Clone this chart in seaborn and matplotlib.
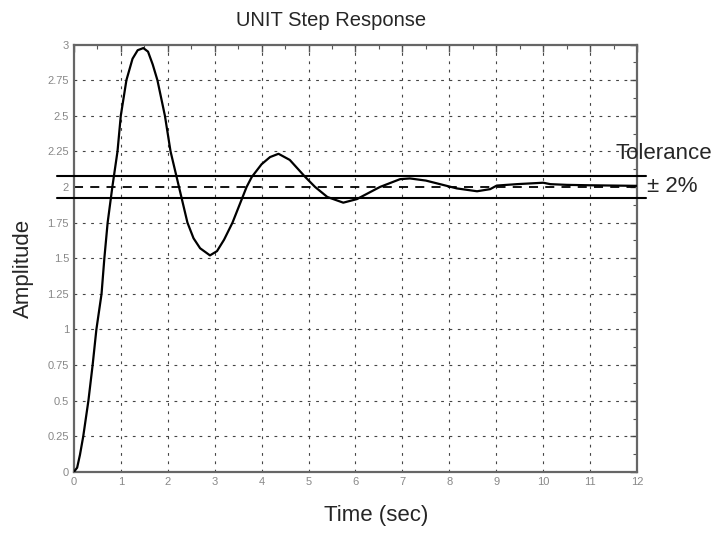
import numpy as np
import pandas as pd
import matplotlib.pyplot as plt
import seaborn as sns

# Step response
time = [0.0, 0.07, 0.13, 0.20, 0.31, 0.40, 0.48, 0.59, 0.65, 0.72, 0.82, 0.93,
        1.00, 1.12, 1.25, 1.36, 1.48, 1.58, 1.68, 1.78, 1.94, 2.06, 2.24, 2.42,
        2.55, 2.69, 2.90, 3.05, 3.20, 3.38, 3.68, 3.79, 4.00, 4.18, 4.36, 4.60,
        4.93, 5.14, 5.40, 5.74, 6.03, 6.52, 6.95, 7.16, 7.50, 7.80, 8.16, 8.59,
        8.87, 9.01, 9.44, 10.00, 10.15, 10.50, 11.00, 12.00]
amplitude = [0.0, 0.03, 0.12, 0.25, 0.50, 0.75, 1.00, 1.25, 1.50, 1.75, 2.00, 2.25,
             2.50, 2.75, 2.90, 2.96, 2.975, 2.95, 2.86, 2.75, 2.50, 2.25, 2.00, 1.75,
             1.64, 1.57, 1.52, 1.55, 1.63, 1.75, 2.00, 2.07, 2.16, 2.21, 2.233, 2.19,
             2.07, 2.00, 1.93, 1.89, 1.915, 2.00, 2.055, 2.06, 2.045, 2.02, 1.99, 1.97,
             1.985, 2.01, 2.02, 2.03, 2.02, 2.015, 2.012, 2.008]

final_value = 2.0
tolerance_band = [1.92, 2.08]

x_ticks = list(range(0, 13))
y_ticks = [0, 0.25, 0.5, 0.75, 1, 1.25, 1.5, 1.75, 2, 2.25, 2.5, 2.75, 3]
y_tick_labels = ["0", "0.25", "0.5", "0.75", "1", "1.25", "1.5", "1.75", "2",
                 "2.25", "2.5", "2.75", "3"]

df = pd.DataFrame({"time": time, "amplitude": amplitude})

sns.set_style("white")
plt.rcParams["font.family"] = ["Liberation Sans", "DejaVu Sans"]

fig = plt.figure(figsize=(7.24, 5.33), dpi=100)
ax = fig.add_axes([0.102, 0.1145, 0.778, 0.802])

# grid
for xt in x_ticks[1:-1]:
    ax.axvline(xt, color="#444444", lw=0.8, ls=(0, (2.5, 5)), zorder=1)
for yt in y_ticks[1:-1]:
    if yt != final_value:
        ax.axhline(yt, color="#444444", lw=0.8, ls=(0, (2.5, 5)), zorder=1)

# final value and tolerance band
ax.axhline(final_value, color="black", lw=1.3, ls=(0, (5, 4)), zorder=2)
for lvl in tolerance_band:
    ax.axhline(lvl, xmin=-0.03, xmax=1.015, color="black", lw=1.5,
               clip_on=False, zorder=3)

sns.lineplot(data=df, x="time", y="amplitude", color="black", lw=1.6,
             ax=ax, zorder=4)

ax.set_xlim(0, 12)
ax.set_ylim(0, 3)
ax.set_xticks(x_ticks)
ax.set_yticks(y_ticks)
ax.set_yticklabels(y_tick_labels)
ax.set_xticks(np.arange(0.5, 12, 1), minor=True)
ax.set_yticks(np.arange(0.125, 3, 0.25), minor=True)
ax.tick_params(which="both", direction="in", top=True, right=True,
               color="#555555", labelcolor="#888888", labelsize=8)
ax.tick_params(which="major", length=5, width=1)
ax.tick_params(which="minor", length=3, width=0.8)
ax.set_xlabel("")
ax.set_ylabel("")
for sp in ax.spines.values():
    sp.set_color("#666666")
    sp.set_linewidth(1.6)

fig.text(0.457, 0.961, "UNIT Step Response", ha="center", va="center", fontsize=14.5)
fig.text(0.519, 0.032, "Time (sec)", ha="center", va="center", fontsize=16)
fig.text(0.032, 0.497, "Amplitude", ha="center", va="center", rotation=90, fontsize=16)
ax.text(0.962, 0.745, "Tolerance", transform=ax.transAxes, ha="left", va="center",
        fontsize=16, clip_on=False)
ax.text(1.017, 0.667, "± 2%", transform=ax.transAxes, ha="left", va="center",
        fontsize=16, clip_on=False)

fig.savefig("out.png", dpi=100)
